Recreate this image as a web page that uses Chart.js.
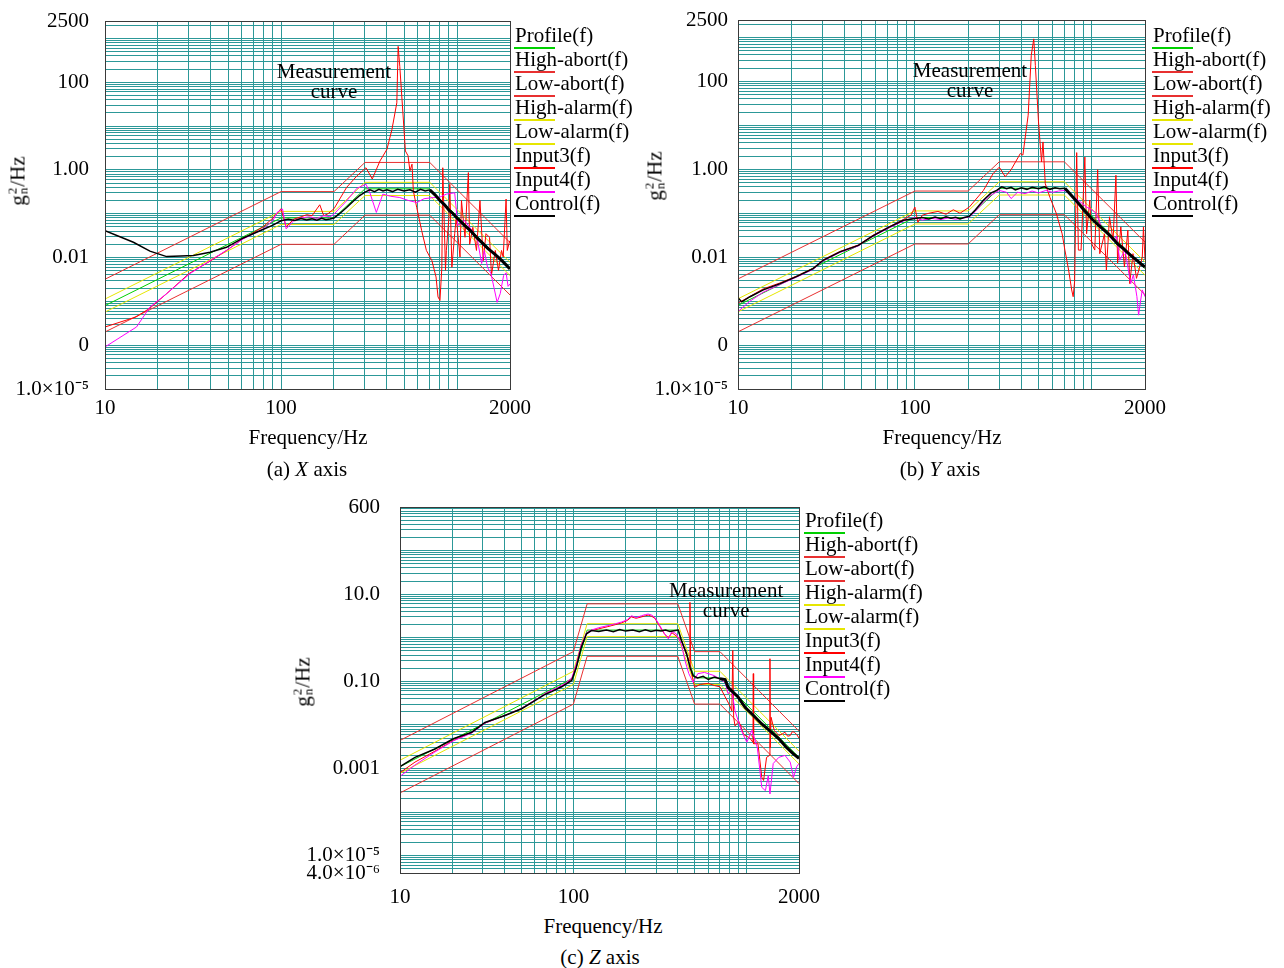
<!DOCTYPE html>
<html><head><meta charset="utf-8">
<script src="https://cdn.jsdelivr.net/npm/chart.js@4.4.1/dist/chart.umd.min.js"></script>
<style>
body{margin:0;width:1284px;height:968px;position:relative;background:#fff;overflow:hidden;font-family:'Liberation Serif','Times New Roman',serif;color:#000}
canvas{position:absolute}
.t{position:absolute;white-space:nowrap;font-size:21px;transform:translate(-50%,-50%)}
.yt{position:absolute;white-space:nowrap;font-size:21px;transform:translate(-50%,-50%) rotate(-90deg)}
.ss{display:inline-flex;flex-direction:column;font-size:13px;line-height:11px;vertical-align:8px;margin:0 1px}
.lg{position:absolute;white-space:nowrap;font-size:21px;line-height:26px;height:26px}
.ul{position:absolute;height:2px;width:41px}
</style></head>
<body>
<canvas id="cA" width="600" height="450" style="left:0;top:0"></canvas>
<canvas id="cB" width="600" height="450" style="left:633px;top:0"></canvas>
<canvas id="cC" width="600" height="425" style="left:295px;top:485px"></canvas>

<div class="yt" style="left:18px;top:181px">g<span class="ss"><span>2</span><span>n</span></span>/Hz</div>
<div class="yt" style="left:655px;top:176px">g<span class="ss"><span>2</span><span>n</span></span>/Hz</div>
<div class="yt" style="left:303px;top:682px">g<span class="ss"><span>2</span><span>n</span></span>/Hz</div>

<div class="t" style="left:308px;top:437px">Frequency/Hz</div>
<div class="t" style="left:942px;top:437px">Frequency/Hz</div>
<div class="t" style="left:603px;top:926px">Frequency/Hz</div>

<div class="t" style="left:307px;top:469px">(a) <i>X</i> axis</div>
<div class="t" style="left:940px;top:469px">(b) <i>Y</i> axis</div>
<div class="t" style="left:600px;top:957px">(c) <i>Z</i> axis</div>

<div id="legends"></div>

<script>
// ---------- axis ticks ----------
const xGridVals = [10,20,30,40,50,60,70,80,90,100,200,300,400,500,600,700,800,900,1000,2000];
const xLabelVals = [10,100,2000];
const xLabelText = ['10','100','2000'];
const yLabelValsXY = [2500,100,1,0.01,0.0001,0.00001];
const yLabelTextXY = ['2500','100','1.00','0.01','0','1.0×10⁻⁵'];
const yLabelValsZ = [1000,10,0.1,0.001,0.00001,0.000004];
const yLabelTextZ = ['600','10.0','0.10','0.001','1.0×10⁻⁵','4.0×10⁻⁶'];

// ---------- legend ----------
const legendNames = ['Profile(f)','High-abort(f)','Low-abort(f)','High-alarm(f)','Low-alarm(f)','Input3(f)','Input4(f)','Control(f)'];
const legendColors = ['#00d000','#e83030','#e83030','#e6e600','#e6e600','#ff0000','#ff00ff','#000000'];

// ---------- profiles & limits (X and Y axis tests) ----------
const profFreqXY = [10, 100, 200, 300, 700, 2000];
const profileXY  = [0.0008, 0.08, 0.08, 0.37, 0.37, 0.0055];
const hiAbortXY  = [0.0032, 0.32, 0.32, 1.48, 1.48, 0.022];
const loAbortXY  = [0.0002, 0.02, 0.02, 0.0925, 0.0925, 0.0014];
const hiAlarmXY  = [0.00113, 0.113, 0.113, 0.52, 0.52, 0.0078];
const loAlarmXY  = [0.00057, 0.057, 0.057, 0.26, 0.26, 0.0039];

// ---------- profiles & limits (Z axis test) ----------
const profFreqZ = [10, 100, 120, 400, 500, 700, 2000];
const profileZ  = [0.0011, 0.12, 1.5, 1.5, 0.12, 0.12, 0.0018];
const hiAbortZ  = [0.0044, 0.48, 6.0, 6.0, 0.48, 0.48, 0.0072];
const loAbortZ  = [0.000275, 0.03, 0.375, 0.375, 0.03, 0.03, 0.00045];
const hiAlarmZ  = [0.00155, 0.17, 2.1, 2.1, 0.17, 0.17, 0.0025];
const loAlarmZ  = [0.00078, 0.085, 1.06, 1.06, 0.085, 0.085, 0.00127];

// ---------- (a) X axis measurements ----------
const aCtrlF = [10,14.5,18,22.4,27,31.8,39.5,49,61,76,90,100,110,120,130,140,150,160,170,180,190,200,215,236,260,280,300,320,340,360,380,400,430,460,500,540,580,620,660,700,750,800,850,900,950,1000,1100,1200,1300,1400,1500,1600,1700,1800,1900,2000];
const aCtrlV = [0.041,0.0223,0.014,0.0105,0.0108,0.0111,0.0132,0.0171,0.028,0.041,0.055,0.069,0.075,0.07,0.078,0.072,0.077,0.071,0.079,0.073,0.076,0.08,0.1,0.139,0.2,0.26,0.31,0.35,0.32,0.36,0.33,0.35,0.32,0.36,0.33,0.35,0.31,0.36,0.33,0.35,0.27,0.2,0.16,0.12,0.1,0.08,0.055,0.04,0.028,0.021,0.016,0.013,0.0105,0.0085,0.0068,0.0055];
const aIn4F = [10,15.1,18,22.4,30.4,39.5,49,61,79,90,95,102,107,118,130,145,160,175,190,200,236,270,304,320,348,379,420,473,530,591,650,734,800,870,970,1010,1040,1100,1180,1260,1310,1380,1430,1490,1560,1620,1690,1760,1840,1900,1950,2000];
const aIn4V = [0.000091,0.00026,0.00074,0.0015,0.0043,0.0085,0.0145,0.0266,0.045,0.07,0.107,0.128,0.045,0.069,0.08,0.085,0.078,0.09,0.085,0.098,0.197,0.38,0.47,0.3,0.107,0.28,0.25,0.234,0.2,0.18,0.22,0.234,0.24,0.28,0.3,0.054,0.058,0.07,0.049,0.034,0.024,0.0073,0.0145,0.006,0.0043,0.0021,0.00095,0.0015,0.0039,0.0045,0.0022,0.0025];
const aIn3F = [10,15,18,22.4,30,40,49,61,79,90,100,107,118,130,140,150,166,175,185,200,236,270,304,330,365,400,427,455,463,473,494,509,527,540,555,565,590,630,670,720,760,780,800,820,830,860,870,900,910,935,970,990,1040,1060,1110,1160,1180,1230,1290,1350,1410,1460,1530,1570,1650,1720,1790,1830,1900,1930,1990];
const aIn3V = [0.00026,0.00044,0.0007,0.0015,0.0043,0.0085,0.0145,0.027,0.05,0.08,0.13,0.05,0.075,0.085,0.095,0.09,0.16,0.09,0.1,0.13,0.4,0.73,1.12,0.62,1.6,2.96,8.4,34,660,230,17,2.7,2.1,0.95,1.35,0.33,0.14,0.041,0.0145,0.0085,0.0036,0.00126,0.00105,0.006,1.12,0.0051,0.0145,0.083,0.47,0.006,0.035,0.083,0.0103,0.2,0.029,0.87,0.02,0.049,0.0145,0.2,0.0085,0.035,0.029,0.004,0.0145,0.0051,0.0145,0.0103,0.216,0.0145,0.024];

// ---------- (b) Y axis measurements ----------
const bCtrlF = [10,10.5,11.7,13.9,17.3,21.4,26.6,30.3,37.7,47.9,58.2,72,86,100,110,120,130,140,150,160,170,180,190,203,220,244,270,290,310,330,350,370,400,430,460,500,540,580,620,660,705,750,800,850,900,950,1000,1100,1200,1300,1400,1500,1600,1700,1800,1900,2000];
const bCtrlV = [0.0012,0.00096,0.00126,0.0018,0.0025,0.0036,0.0055,0.0085,0.0132,0.0186,0.031,0.049,0.069,0.076,0.08,0.074,0.082,0.075,0.083,0.077,0.081,0.074,0.08,0.085,0.12,0.197,0.29,0.33,0.4,0.36,0.39,0.34,0.38,0.35,0.39,0.36,0.4,0.35,0.38,0.36,0.37,0.28,0.21,0.16,0.12,0.095,0.075,0.052,0.038,0.028,0.02,0.016,0.0125,0.0102,0.0085,0.007,0.006];
const bIn4F = [10,11.7,13.9,17.3,21.4,26.6,30.3,37.7,47.9,58.2,72,86,100,110,125,140,155,170,185,203,220,244,270,300,330,350,380,420,460,500,550,600,650,705,785,850,935,1000,1060,1130,1210,1320,1380,1440,1540,1600,1660,1720,1800,1840,1880,1930,2000];
const bIn4V = [0.00058,0.001,0.0016,0.0024,0.0035,0.0053,0.0082,0.0128,0.018,0.03,0.047,0.066,0.08,0.07,0.076,0.072,0.078,0.073,0.077,0.082,0.11,0.18,0.26,0.33,0.3,0.216,0.3,0.28,0.32,0.29,0.33,0.3,0.32,0.33,0.234,0.19,0.138,0.12,0.1,0.05,0.035,0.024,0.03,0.0085,0.0145,0.006,0.0025,0.004,0.00126,0.00048,0.0009,0.0018,0.00126];
const bIn3F = [10,13.9,17.3,21.4,26.6,30.3,37.7,47.9,58.2,72,86,95,100,104,110,120,135,150,165,180,203,244,277,300,324,350,395,408,437,455,470,480,500,520,530,546,580,630,680,705,740,770,785,800,822,840,870,914,935,975,1000,1040,1080,1110,1180,1210,1260,1320,1370,1400,1460,1530,1600,1640,1710,1790,1930,1960,2000];
const bIn3V = [0.0009,0.0019,0.0026,0.0037,0.0056,0.0087,0.0135,0.019,0.032,0.05,0.072,0.09,0.138,0.062,0.09,0.1,0.11,0.095,0.12,0.1,0.138,0.33,0.8,1.12,0.68,0.98,2.3,2.1,17,390,930,230,12,1.47,4.2,0.47,0.23,0.1,0.034,0.0145,0.0051,0.0018,0.00126,0.0028,2.4,0.0145,0.0145,1.9,0.034,0.2,0.02,0.0145,0.98,0.012,0.034,0.0051,0.083,0.024,0.73,0.0073,0.049,0.006,0.041,0.0025,0.012,0.0033,0.0098,0.049,0.0088];

// ---------- (c) Z axis measurements ----------
const cCtrlF = [10,12.2,15.9,20.3,25.9,30.9,40.3,50.3,60,68.6,75,85.6,97.8,104,111,119,127,140,155,170,185,200,220,240,260,280,300,320,340,360,380,403,420,450,470,490,520,560,600,650,700,750,780,890,980,1100,1220,1350,1530,1700,1850,2000];
const cCtrlV = [0.0011,0.0018,0.0028,0.0048,0.0068,0.0114,0.0165,0.0235,0.036,0.05,0.058,0.075,0.105,0.21,0.6,1.23,1.46,1.4,1.5,1.38,1.55,1.42,1.5,1.38,1.52,1.4,1.48,1.43,1.5,1.4,1.45,1.5,0.86,0.43,0.21,0.135,0.12,0.13,0.11,0.125,0.115,0.11,0.073,0.044,0.025,0.016,0.0105,0.0075,0.0048,0.003,0.0022,0.0017];
const cIn4F = [10,12.2,15.9,20.3,25.9,30.9,40.3,50.3,60,70,80,90,98,104,111,119,127,140,158,175,190,205,216,230,247,260,270,283,295,315,336,353,370,392,420,440,463,490,522,570,650,750,780,820,855,930,1000,1070,1150,1220,1280,1330,1360,1420,1530,1660,1780,1860,1940,2000];
const cIn4V = [0.00066,0.0012,0.0024,0.0043,0.0065,0.011,0.0165,0.024,0.037,0.055,0.07,0.09,0.12,0.25,0.7,1.3,1.5,1.7,1.9,2.1,2.3,2.6,3.2,2.9,3.2,3.4,3.5,3.3,2.9,1.9,1.23,0.94,1.4,1.23,0.7,0.3,0.15,0.095,0.15,0.16,0.135,0.095,0.052,0.062,0.021,0.0075,0.004,0.0075,0.003,0.00037,0.00031,0.00069,0.00026,0.0013,0.0018,0.002,0.0014,0.00063,0.0011,0.0013];
const cIn3F = [10,12.2,15.9,20.3,25.9,30.9,40.3,50.3,60,70,80,90,98,104,111,119,127,140,158,175,190,205,216,230,247,260,270,283,295,315,336,353,370,392,420,440,465,470,475,500,540,600,650,700,750,790,820,830,840,855,900,960,1040,1085,1090,1095,1160,1220,1250,1300,1355,1360,1365,1380,1440,1530,1600,1660,1720,1780,1830,1880,1940,2000];
const cIn3V = [0.0008,0.0014,0.0025,0.0044,0.0066,0.011,0.0165,0.024,0.037,0.054,0.068,0.088,0.115,0.24,0.66,1.25,1.45,1.6,1.8,2.0,2.2,2.5,3.0,2.8,3.0,3.2,3.3,3.1,2.8,1.8,1.2,1.0,1.3,1.1,0.86,0.5,0.3,6.5,0.2,0.073,0.085,0.09,0.08,0.075,0.044,0.03,0.021,0.51,0.015,0.0095,0.012,0.006,0.005,0.004,0.15,0.0037,0.0037,0.00063,0.00053,0.0018,0.002,0.33,0.003,0.015,0.0075,0.0057,0.0062,0.0068,0.0055,0.0057,0.007,0.0068,0.006,0.005];

// ---------- annotation anchor (frequency, level) ----------
const noteFreq  = [200, 205, 760];
const noteLevel = [100, 100, 6.8];
const noteLines = ['Measurement', 'curve'];

// ---------- rendering ----------
const FONT = "'Liberation Serif', 'Times New Roman', serif";
const GRID = '#2c9898';

function logGrid(min, max) {
  const out = [min];
  for (let e = -7; e <= 4; e++) for (let n = 1; n <= 9; n++) {
    const v = n * Math.pow(10, e);
    if (v > min * 1.0001 && v < max * 0.9999) out.push(v);
  }
  out.push(max);
  return out.sort((a, b) => a - b);
}
function labelFor(v, vals, texts) {
  const i = vals.findIndex(t => Math.abs(Math.log10(t) - Math.log10(v)) < 1e-6);
  return i >= 0 ? texts[i] : '';
}
function series(freqs, vals) { return freqs.map((f, i) => ({x: f, y: vals[i]})); }

const framePlugin = {
  id: 'frame',
  afterDraw(chart, args, opts) {
    const {ctx, chartArea: a} = chart;
    ctx.save();
    ctx.strokeStyle = '#3a3a3a'; ctx.lineWidth = 1;
    ctx.strokeRect(Math.round(a.left) + 0.5, Math.round(a.top) + 0.5, Math.round(a.right - a.left), Math.round(a.bottom - a.top));
    const x = chart.scales.x.getPixelForValue(opts.noteF);
    const y = chart.scales.y.getPixelForValue(opts.noteV);
    ctx.fillStyle = '#000'; ctx.font = '21px ' + FONT;
    ctx.textAlign = 'center'; ctx.textBaseline = 'middle';
    ctx.fillText(noteLines[0], x, y - 10);
    ctx.fillText(noteLines[1], x, y + 10);
    ctx.restore();
  }
};

function build(p) {
  const list = [[p.profF, p.profile], [p.profF, p.hiAbort], [p.profF, p.loAbort], [p.profF, p.hiAlarm],
                [p.profF, p.loAlarm], [p.in3F, p.in3], [p.in4F, p.in4], [p.ctrlF, p.ctrl]];
  const datasets = list.map((d, i) => {
    const ds = {label: legendNames[i], data: series(d[0], d[1]), borderColor: legendColors[i],
      borderWidth: 1, pointRadius: 0, tension: 0, fill: false, order: 7 - i};
    if (i === 7) { ds.borderWidth = 1.5; ds.segment = {borderWidth: c => c.p0.parsed.x >= 700 ? 3 : 1.5}; }
    return ds;
  });
  new Chart(document.getElementById(p.id), {
    type: 'line',
    data: {datasets},
    options: {
      responsive: false, animation: false, devicePixelRatio: 1,
      layout: {padding: {left: 0, right: p.padRight, top: p.padTop, bottom: 0}},
      plugins: {legend: {display: false}, tooltip: {enabled: false}, frame: {noteF: p.noteF, noteV: p.noteV}},
      scales: {
        x: {type: 'logarithmic', position: 'bottom', min: 10, max: 2000,
          afterBuildTicks: s => { s.ticks = xGridVals.map(v => ({value: v})); },
          afterFit: s => { s.height = p.xH; s.paddingLeft = 0; s.paddingRight = 0; },
          grid: {color: GRID, lineWidth: 1, drawTicks: false},
          border: {display: false},
          ticks: {autoSkip: false, maxRotation: 0, minRotation: 0, padding: p.xPad, color: '#000',
            font: {family: FONT, size: 21}, callback: v => labelFor(v, xLabelVals, xLabelText)}},
        y: {type: 'logarithmic', position: 'left', min: p.yMin, max: p.yMax,
          afterBuildTicks: s => { s.ticks = logGrid(p.yMin, p.yMax).map(v => ({value: v})); },
          afterFit: s => { s.width = p.yW; s.paddingTop = 0; s.paddingBottom = 0; },
          grid: {color: GRID, lineWidth: 1, drawTicks: false},
          border: {display: false},
          ticks: {autoSkip: false, padding: p.yPad, color: '#000',
            font: {family: FONT, size: 21}, callback: v => labelFor(v, p.yVals, p.yText)}}
      }
    },
    plugins: [framePlugin]
  });
}

build({id: 'cA', padTop: 21, padRight: 90, yW: 105, xH: 61, xPad: 7, yPad: 16,
  yMin: 0.00001, yMax: 2500, yVals: yLabelValsXY, yText: yLabelTextXY,
  profF: profFreqXY, profile: profileXY, hiAbort: hiAbortXY, loAbort: loAbortXY, hiAlarm: hiAlarmXY, loAlarm: loAlarmXY,
  in3F: aIn3F, in3: aIn3V, in4F: aIn4F, in4: aIn4V, ctrlF: aCtrlF, ctrl: aCtrlV, noteF: noteFreq[0], noteV: noteLevel[0]});
build({id: 'cB', padTop: 20, padRight: 88, yW: 105, xH: 61, xPad: 7, yPad: 10,
  yMin: 0.00001, yMax: 2500, yVals: yLabelValsXY, yText: yLabelTextXY,
  profF: profFreqXY, profile: profileXY, hiAbort: hiAbortXY, loAbort: loAbortXY, hiAlarm: hiAlarmXY, loAlarm: loAlarmXY,
  in3F: bIn3F, in3: bIn3V, in4F: bIn4F, in4: bIn4V, ctrlF: bCtrlF, ctrl: bCtrlV, noteF: noteFreq[1], noteV: noteLevel[1]});
build({id: 'cC', padTop: 22, padRight: 96, yW: 105, xH: 37, xPad: 12, yPad: 20,
  yMin: 0.000004, yMax: 1000, yVals: yLabelValsZ, yText: yLabelTextZ,
  profF: profFreqZ, profile: profileZ, hiAbort: hiAbortZ, loAbort: loAbortZ, hiAlarm: hiAlarmZ, loAlarm: loAlarmZ,
  in3F: cIn3F, in3: cIn3V, in4F: cIn4F, in4: cIn4V, ctrlF: cCtrlF, ctrl: cCtrlV, noteF: noteFreq[2], noteV: noteLevel[2]});

// legends (HTML text with coloured underline)
const legendPos = [[515, 35], [1153, 35], [805, 520]];
const host = document.getElementById('legends');
legendPos.forEach(([lx, ly]) => {
  legendNames.forEach((name, i) => {
    const t = document.createElement('div');
    t.className = 'lg'; t.textContent = name;
    t.style.left = lx + 'px'; t.style.top = (ly + i * 24 - 13) + 'px';
    host.appendChild(t);
    const u = document.createElement('div');
    u.className = 'ul'; u.style.background = legendColors[i];
    u.style.left = (lx - 1) + 'px'; u.style.top = (ly + i * 24 + 12) + 'px';
    host.appendChild(u);
  });
});
</script>
</body></html>
